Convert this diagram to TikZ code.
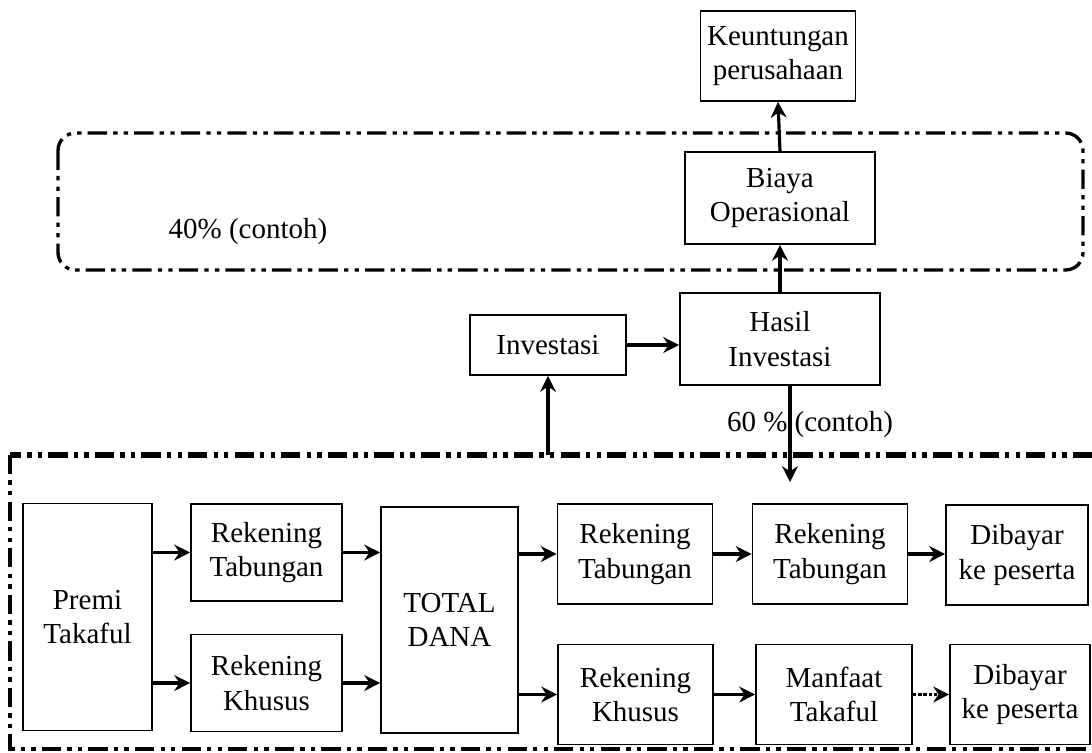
\documentclass[tikz,border=0pt]{standalone}
\usepackage{fontspec}
\setmainfont{Liberation Serif}
\usetikzlibrary{arrows.meta,positioning,calc}
\tikzset{every picture/.style={line width=0.75pt}}
\tikzset{
  kotak/.style={draw, line width=1pt, inner sep=0pt, align=center,
    font=\fontsize{16.5}{19.5}\selectfont},
  panah/.style={line width=1.8pt, -{Stealth[length=9pt,width=9pt]}},
  garis/.style={line width=1.8pt, dash pattern=on 11pt off 3.5pt on 2.5pt off 3.5pt on 2.5pt off 3.5pt}
}

\begin{document}
\begin{tikzpicture}[x=0.02cm, y=-0.02cm]
    \useasboundingbox (0,0) rectangle (1092,752);

    % bagian atas
    \node[kotak, minimum width=3.1cm, minimum height=1.8cm] (keu) at (778,56) {Keuntungan\\perusahaan};
    \node[kotak, minimum width=3.8cm, minimum height=1.84cm] (biaya) at (780,198) {Biaya\\Operasional};
    \node[kotak, minimum width=4.0cm, minimum height=1.84cm] (hasil) at (780,339) {Hasil\\Investasi};
    \node[kotak, minimum width=3.12cm, minimum height=1.2cm] (invest) at (548,345) {Investasi};

    % kotak biaya (40%)
    \draw[garis, line width=1.9pt, rounded corners=0.35cm] (58,133) rectangle (1083,270);
    \node[font=\fontsize{16.5}{19.5}\selectfont] (persen40) at (248,232) {40\% (contoh)};

    % kotak dana peserta
    \draw[garis, line width=3pt] (1092,455) -- (10,455);
    \draw[garis, line width=1.9pt] (10,455) -- (10,749) -- (1092,749);

    % baris tabungan dan khusus
    \node[kotak, minimum width=2.58cm, minimum height=4.54cm] (premi) at (87.5,617) {Premi\\Takaful};
    \node[kotak, minimum width=3.02cm, minimum height=1.94cm] (rt1) at (266.5,552.5) {Rekening\\Tabungan};
    \node[kotak, minimum width=3.02cm, minimum height=1.94cm] (rk1) at (266.5,683) {Rekening\\Khusus};
    \node[kotak, minimum width=2.74cm, minimum height=4.52cm] (total) at (449.5,620) {TOTAL\\DANA};
    \node[kotak, minimum width=3.1cm, minimum height=2.0cm] (rt2) at (635,554) {Rekening\\Tabungan};
    \node[kotak, minimum width=3.1cm, minimum height=2.0cm] (rt3) at (830,554) {Rekening\\Tabungan};
    \node[kotak, minimum width=2.84cm, minimum height=2.0cm] (dib1) at (1017,555) {Dibayar\\ke peserta};
    \node[kotak, minimum width=3.1cm, minimum height=2.0cm] (rk2) at (635.5,694.5) {Rekening\\Khusus};
    \node[kotak, minimum width=3.12cm, minimum height=2.0cm] (manf) at (834,694.5) {Manfaat\\Takaful};
    \node[kotak, minimum width=2.8cm, minimum height=2.0cm] (dib2) at (1020,694.5) {Dibayar\\ke peserta};

    % panah atas
    \draw[panah] (biaya.north) -- (keu.south);
    \draw[panah] (hasil.north) -- (biaya.south);
    \draw[panah] (invest.east) -- (invest.east -| hasil.west);
    \coordinate (cabang) at (invest.south |- 0,455);
    \draw[panah] (cabang) -- (invest.south);
    \coordinate (turun) at ($(hasil.south |- 0,482)+(10,0)$);
    \draw[panah] ($(hasil.south)+(10,0)$) -- (turun);
    \node[font=\fontsize{16.5}{19.5}\selectfont] (persen60) at (810,425) {60 \% (contoh)};

    % panah bawah
    \draw[panah] (premi.east |- rt1.west) -- (rt1.west);
    \draw[panah] (premi.east |- rk1.west) -- (rk1.west);
    \draw[panah] (rt1.east) -- (rt1.east -| total.west);
    \draw[panah] (rk1.east) -- (rk1.east -| total.west);
    \draw[panah] (total.east |- rt2.west) -- (rt2.west);
    \draw[panah] (total.east |- rk2.west) -- (rk2.west);
    \draw[panah] (rt2.east) -- (rt3.west);
    \draw[panah] (rt3.east) -- (rt3.east -| dib1.west);
    \draw[panah] (rk2.east) -- (rk2.east -| manf.west);
    \draw[panah, dash pattern=on 2pt off 1pt] (manf.east) -- (manf.east -| dib2.west);
\end{tikzpicture}
\end{document}
